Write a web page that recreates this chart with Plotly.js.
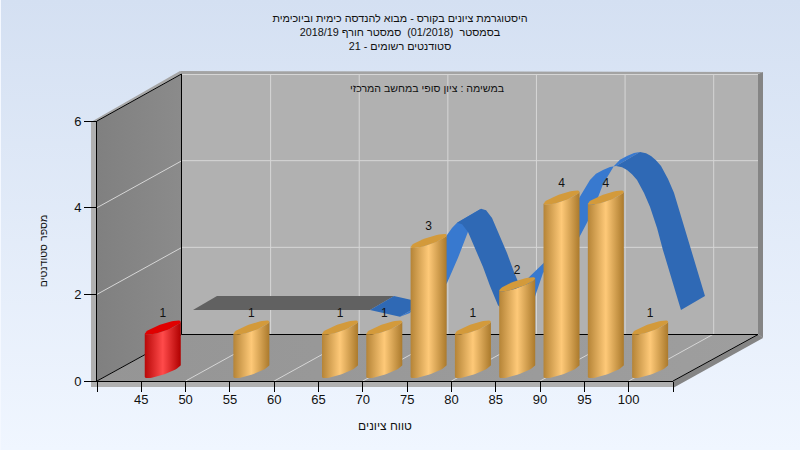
<!DOCTYPE html>
<html><head><meta charset="utf-8">
<script src="https://cdn.plot.ly/plotly-3.0.1.min.js"></script>
<style>
html,body{margin:0;padding:0;width:800px;height:450px;overflow:hidden;background:linear-gradient(#d4e0f2,#f0f6ff);box-shadow:inset 1px 0 0 #f4f8ff;}
#c{width:800px;height:450px;}
</style></head><body><div id="c"></div>
<script>
// ---- data ----
var binStarts = [45, 55, 65, 70, 75, 80, 85, 90, 95, 100];
var binCounts = [1, 1, 1, 1, 3, 1, 2, 4, 4, 1];
var binColours = ['red','gold','gold','gold','gold','gold','gold','gold','gold','gold'];
var tickScores = [40,45,50,55,60,65,70,75,80,85,90,95,100,105];
var tickLabels = ['','45','50','55','60','65','70','75','80','85','90','95','100',''];
var countTicks = [0,2,4,6];
var gridScores = [50,60,70,80,90,100];
var gridCounts = [2,4];
// trend ribbon, front edge
var flatScore = [50.83, 70.81];
var flatCount = [1.64, 1.64];
var dipScore = [70.81, 72.61, 74.19];
var dipCount = [1.64, 1.55, 1.48];
var rise1Score = [74.19, 75.32, 76.79, 78.03, 79.16, 79.5, 80.06, 80.63];
var rise1Count = [1.48, 1.57, 1.94, 2.52, 3.12, 3.37, 3.53, 3.65];
var fall1Score = [80.63, 81.2, 81.87, 82.66, 83.56, 84.35, 85.25, 86.04];
var fall1Count = [3.65, 3.62, 3.44, 3.05, 2.63, 2.19, 1.75, 1.59];
var rise2Score = [86.04, 86.72, 87.62, 89.43, 91.69, 93.15, 94.39, 95.63, 96.31, 97.1, 97.89, 98.57];
var rise2Count = [1.59, 1.62, 2.17, 2.54, 2.98, 3.55, 4.22, 4.64, 4.78, 4.87, 4.94, 4.96];
var fall2Score = [98.57, 99.25, 99.81, 100.37, 100.94, 101.73, 102.4, 103.2, 103.87, 104.89, 105.9];
var fall2Count = [4.96, 4.93, 4.87, 4.77, 4.64, 4.34, 4.02, 3.53, 3.02, 2.33, 1.64];

var titleText = '\u202Bהיסטוגרמת ציונים בקורס - מבוא להנדסה כימית וביוכימית\u202C<br>\u202Bבסמסטר  (01/2018)  סמסטר חורף 2018/19\u202C<br>\u202Bסטודנטים רשומים - 21\u202C';
var subText = '\u202Bבמשימה : ציון סופי במחשב המרכזי\u202C';
var xTitle = 'טווח ציונים';
var yTitle = 'מספר סטודנטים';

// ---- helpers ----
var W=800,H=450,L=97,R=673,T=121,B=381;
var sx=(105-40)/(R-L), sy=6/(B-T);
var DX=85, DY=47;               // depth of the box, px
var FONT='"Liberation Sans", Arial, sans-serif';
var traces=[];
function P(s,c,d,px,py){ d=d||0;px=px||0;py=py||0; return [s+(d*DX+px)*sx, c+(d*DY+py)*sy]; }
function poly(pts,col,grad){
  var t={x:pts.map(function(p){return p[0];}).concat([pts[0][0]]),
         y:pts.map(function(p){return p[1];}).concat([pts[0][1]]),
         mode:'lines',fill:'toself',line:{width:0},hoverinfo:'skip',showlegend:false,type:'scatter'};
  if(grad){t.fillgradient=grad;t.fillcolor='rgba(0,0,0,0)';} else t.fillcolor=col;
  traces.push(t);
}
function seg(a,b,col,w){
  traces.push({x:[a[0],b[0]],y:[a[1],b[1]],mode:'lines',line:{color:col,width:w||1},hoverinfo:'skip',showlegend:false,type:'scatter'});
}
var S0=40,S1=105,C0=0,C1=6;
// frame strips
poly([P(S0,C1,0,-6,-1),P(S0,C1),P(S0,C0,0,0,-6),P(S0,C0,0,-6,-6)],'#b0b0b0');
poly([P(S0,C1,0,-6,-1),P(S0,C1,1,-2,3),P(S0,C1,1,0,0),P(S0,C1)],'#a6a6a6');
poly([P(S0,C1,1,-2,3),P(S1,C1,1,5,2),P(S1,C1,1,0,0),P(S0,C1,1,0,0)],'#a3a3a3');
poly([P(S1,C1,1,0,0),P(S1,C1,1,5,2),P(S1,C0,1,5,-4),P(S1,C0,1)],'#858585');
poly([P(S0,C0,0,-6,0),P(S1,C0),P(S1,C0,0,0,-6),P(S0,C0,0,-6,-6)],'#b0b0b0');
poly([P(S1,C0),P(S1,C0,1),P(S1,C0,1,5,-4),P(S1,C0,0,0,-7)],'#858585');
// walls
poly([P(S0,C1,1),P(S1,C1,1),P(S1,C0,1),P(S0,C0,1)],'#b1b1b1');
poly([P(S0,C1),P(S0,C1,1),P(S0,C0,1),P(S0,C0)],null,{type:'horizontal',colorscale:[[0,'#808080'],[1,'#8b8b8b']]});
poly([P(S0,C0),P(S1,C0),P(S1,C0,1),P(S0,C0,1)],null,{type:'horizontal',colorscale:[[0,'#959595'],[1,'#9e9e9e']]});
// grid
var GRID='#d6d6d6';
gridCounts.forEach(function(c){ seg(P(S0,c,1),P(S1,c,1),GRID); seg(P(S0,c),P(S0,c,1),GRID); });
seg(P(S0,C1,1,0,-0.5),P(S1,C1,1,0,-0.5),GRID);
gridScores.forEach(function(s){ seg(P(s,C0,1),P(s,C1,1),GRID); seg(P(s,C0),P(s,C0,1),GRID); });
// box edges
seg(P(S0,C1),P(S0,C1,1,-0.5,0),'#000'); seg(P(S0,C0),P(S0,C0,1,-0.5,-0.5),'#000');
seg(P(S0,C0,1,-0.5,-0.5),P(S0,C1,1,-0.5,0),'#000'); seg(P(S0,C0,1,-0.5,-0.5),P(S1,C0,1,0,-0.5),'#000');
seg(P(S1,C0),P(S1,C0,1,0,-0.5),'#000');
// ribbon
var RX=24*sx, RY=14*sy;
function ribbon(ss,cc,col){
  var pts=[],i;
  for(i=0;i<ss.length;i++) pts.push([ss[i],cc[i]]);
  for(i=ss.length-1;i>=0;i--) pts.push([ss[i]+RX,cc[i]+RY]);
  poly(pts,col);
}
var LIGHT='#3879cf',DARK='#2f69b5';
ribbon(flatScore,flatCount,'#616161');
ribbon(dipScore,dipCount,DARK);
ribbon(rise1Score,rise1Count,LIGHT);
ribbon(fall1Score,fall1Count,DARK);
ribbon(rise2Score,rise2Count,LIGHT);
ribbon(fall2Score,fall2Count,DARK);
// cylinders
var PAL={gold:{g:[[0,'#b58437'],[0.5,'#fec978'],[1,'#ab7a2c']],cap:'#d39a3b'},
         red:{g:[[0,'#b80808'],[0.5,'#ff4b4b'],[1,'#b00000']],cap:'#e00000'}};
function ell(cs,cc,from,to,n){
  var out=[],a=18*sx,k=6*sy,b=3.8*sy;
  for(var i=0;i<=n;i++){var t=from+(to-from)*i/n;
    out.push([cs+a*Math.cos(t),cc+k*Math.cos(t)+b*Math.sin(t)]);}
  return out;
}
var BASE=10*sy, CENTRE=2.42;
binStarts.forEach(function(st,i){
  var cs=st+CENTRE, v=binCounts[i], pal=PAL[binColours[i]];
  var bottom=ell(cs,BASE,Math.PI,2*Math.PI,24);
  var top=ell(cs,BASE+v,2*Math.PI,Math.PI,24);
  poly(bottom.concat(top),null,{type:'horizontal',colorscale:pal.g});
  poly(ell(cs,BASE+v,0,2*Math.PI,40),pal.cap);
});
// value labels, on the chart's real axes
traces.push({xaxis:'x2',yaxis:'y2',x:binStarts.map(function(s){return s+CENTRE;}),y:binCounts.map(function(v){return v+0.55;}),
  text:binCounts.map(String),mode:'text',textposition:'middle center',textfont:{family:FONT,size:12,color:'#111'},
  hoverinfo:'skip',showlegend:false,cliponaxis:false,type:'scatter'});

var layout={
  width:W,height:H,margin:{l:0,r:0,t:0,b:0,pad:0},autosize:false,showlegend:false,
  paper_bgcolor:'rgba(0,0,0,0)',plot_bgcolor:'rgba(0,0,0,0)',
  title:{text:titleText,font:{family:FONT,size:10.8,color:'#111'},x:0.5,xanchor:'center',y:0.952,yanchor:'top',pad:{t:0,b:0}},
  // full-canvas scene axes: same scale as the chart axes, carry the box in depth
  xaxis:{domain:[0,1],range:[S0-L*sx,S1+(W-R)*sx],visible:false,fixedrange:true},
  yaxis:{domain:[0,1],range:[-(H-B)*sy,B*sy],visible:false,fixedrange:true},
  xaxis2:{domain:[L/W,R/W],range:[S0,S1],anchor:'y2',tickmode:'array',tickvals:tickScores,ticktext:tickLabels,
    showline:true,linecolor:'#000',linewidth:1,ticks:'outside',ticklen:10,tickwidth:1,tickcolor:'#000',
    showgrid:false,zeroline:false,tickfont:{family:FONT,size:13,color:'#111'},tickangle:0,ticklabelstandoff:-4,
    title:{text:xTitle,font:{family:FONT,size:12,color:'#111'},standoff:16},fixedrange:true},
  yaxis2:{domain:[(H-B)/H,(H-T)/H],range:[C0,C1],anchor:'x2',tickmode:'array',tickvals:countTicks,ticktext:countTicks.map(String),
    showline:true,linecolor:'#000',linewidth:1,ticks:'outside',ticklen:12,tickwidth:1,tickcolor:'#000',
    showgrid:false,zeroline:false,tickfont:{family:FONT,size:13,color:'#111'},
    title:{text:yTitle,font:{family:FONT,size:10.6,color:'#111'},standoff:24},fixedrange:true},
  annotations:[{text:subText,xref:'paper',yref:'paper',x:427/W,y:1-88/H,xanchor:'center',yanchor:'middle',showarrow:false,
    font:{family:FONT,size:10.6,color:'#111'}}]
};
Plotly.newPlot('c',traces,layout,{displayModeBar:false,staticPlot:true});
</script></body></html>
